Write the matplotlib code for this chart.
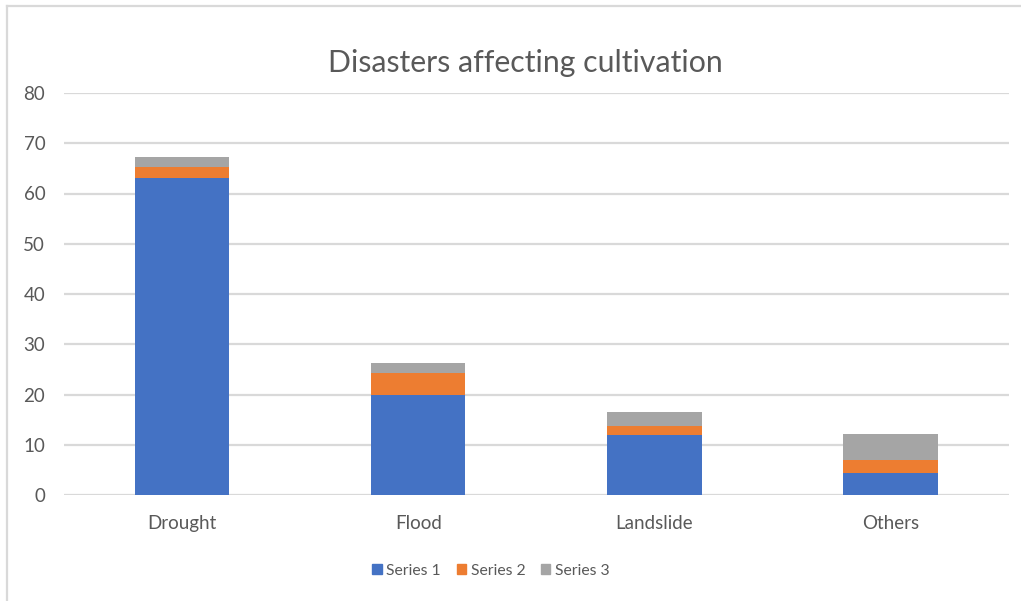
import matplotlib
matplotlib.use("Agg")
import matplotlib.pyplot as plt
from matplotlib.lines import Line2D
from matplotlib.patches import Rectangle
import numpy as np

categories = ["Drought", "Flood", "Landslide", "Others"]
series_names = ["Series 1", "Series 2", "Series 3"]
series1 = [63.0, 20.0, 12.0, 4.3]
series2 = [2.3, 4.2, 1.7, 2.7]
series3 = [1.9, 2.1, 2.9, 5.1]
y_ticks = [0, 10, 20, 30, 40, 50, 60, 70, 80]

colors = ["#4472C4", "#ED7D31", "#A5A5A5"]
text_color = "#595959"
grid_color = "#D9D9D9"

plt.rcParams["font.family"] = ["Lato", "DejaVu Sans"]

W, H = 1021, 601
fig = plt.figure(figsize=(W / 100, H / 100), dpi=100)
fig.patch.set_facecolor("white")

# chart frame (only top and left edges fall inside the canvas)
fig.add_artist(Line2D([7 / W, 7 / W], [0, 1 - 6 / H], transform=fig.transFigure,
                      color=grid_color, lw=1.6))
fig.add_artist(Line2D([7 / W, 1], [1 - 6 / H, 1 - 6 / H], transform=fig.transFigure,
                      color=grid_color, lw=1.6))

ax = fig.add_axes([64 / W, 1 - 495 / H, (1008.7 - 64) / W, (495 - 93) / H])
ax.set_facecolor("none")

x = np.arange(len(categories))
width = 0.4
bottom = np.zeros(len(categories))
for name, vals, c in zip(series_names, [series1, series2, series3], colors):
    ax.bar(x, vals, width, bottom=bottom, color=c, label=name, zorder=3)
    bottom += np.array(vals)

ax.set_xlim(-0.5, len(categories) - 0.5)
ax.set_ylim(0, 80)
ax.set_yticks(y_ticks)
ax.set_xticks(x)
ax.set_xticklabels(categories)
ax.yaxis.grid(True, color=grid_color, lw=1.6, zorder=0)
ax.tick_params(axis="both", length=0, colors=text_color, labelsize=13.5)
ax.tick_params(axis="y", pad=13.5)
ax.tick_params(axis="x", pad=14.5)
for s in ax.spines.values():
    s.set_visible(False)

fig.text(525 / W, 1 - 63 / H, "Disasters affecting cultivation", ha="center", va="center",
         fontsize=21.8, color=text_color)

handles = [Rectangle((0, 0), 1, 1, color=c) for c in colors]
fig.legend(handles, series_names, loc="center", bbox_to_anchor=(491 / W, 1 - 571 / H),
           ncol=3, frameon=False, fontsize=11.3, labelcolor=text_color,
           handlelength=0.6, handleheight=0.6, handletextpad=0.3, columnspacing=1.0)

fig.savefig("out.png", dpi=100, facecolor="white")
